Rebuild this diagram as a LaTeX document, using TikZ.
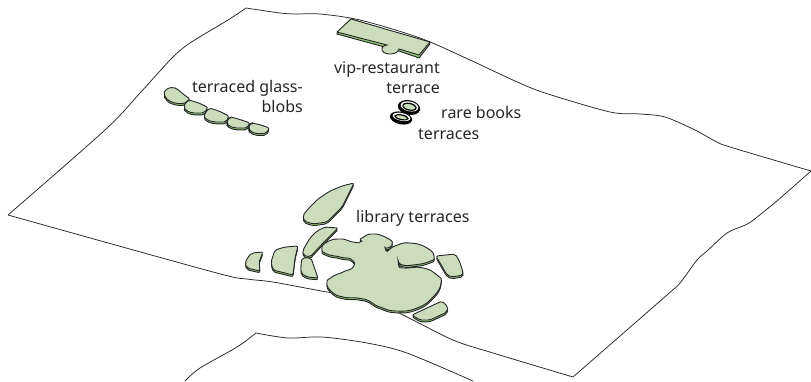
\documentclass[tikz,border=0pt]{standalone}
\usepackage{xcolor}
\usepackage{fontspec}
\setmainfont{Noto Sans}
\definecolor{terracetop}{HTML}{CCDDBE}
\definecolor{terraceside}{HTML}{8CC276}
\newcommand{\terrace}[1]{%
  \draw[side, shift={(0,1.8)}] #1;
  \draw[top] #1;}

\begin{document}
\begin{tikzpicture}[
    x=1pt, y=-1pt,
    font=\fontsize{16}{20}\selectfont,
    ground/.style={line width=.75pt, black!85},
    top/.style={draw=black!85, fill=terracetop, line width=.9pt, rounded corners=2pt},
    side/.style={draw=black!85, fill=terraceside, line width=.9pt, rounded corners=2pt},
    ringline/.style={draw=black, line width=1.2pt},
    lab/.style={inner sep=0pt, text=black!85, align=right}
  ]
    \useasboundingbox (0,0) rectangle (811,381);

    % site outline
    \draw[ground] plot[smooth, tension=.5] coordinates {(8,215) (105,130) (140,93) (172,58) (190,43) (228,20) (246,8)};
    \draw[ground] plot[smooth, tension=.5] coordinates {(246,8) (280,13) (296,14) (320,14) (360,20) (420,38) (470,60) (515,81) (545,93) (610,112) (640,114) (665,117) (695,130) (715,141) (730,147) (811,171)};
    \draw[ground] plot[smooth, tension=.5] coordinates {(811,171) (778,200) (752,221) (743,226) (727,233) (707,251) (697,260) (680,283) (667,295) (573,377)};
    \draw[ground] plot[smooth, tension=.5] coordinates {(573,377) (493,353) (453,340) (407,317) (367,298) (327,292) (273,282) (247,279) (213,272) (8,215)};
    \draw[ground] plot[smooth, tension=.5] coordinates {(185,381) (200,368) (237,347) (256,333)};
    \draw[ground] plot[smooth, tension=.5] coordinates {(256,333) (288,338) (322,337) (367,343) (407,353) (473,381)};

    % glass blobs
    \terrace{(163.5,94) -- (166,89) -- (173,87) -- (178,89.5) -- (183,94) -- (190,99) -- (185,103.5) -- (176,103.5) -- (168,100.5) -- cycle}
    \terrace{(183.5,107) -- (186,102) -- (189,100) -- (199,103) -- (208,107.5) -- (204,113) -- (192,113) -- (186,110.5) -- cycle}
    \terrace{(203.5,116) -- (206,112) -- (209,108) -- (219,111) -- (229,116) -- (226,122) -- (214,122) -- (207,120) -- cycle}
    \terrace{(226.5,123) -- (228,119) -- (231,117) -- (240,119.5) -- (250,123) -- (247,128) -- (235,128) -- (229,126) -- cycle}
    \terrace{(248.5,128) -- (250,124) -- (252,123) -- (261,125) -- (269.5,128) -- (266,133.5) -- (255,133.5) -- (250,131) -- cycle}

    % vip terrace
    \fill[terraceside, draw=black!85, line width=.9pt] (351,19) -- (430,44) -- (419,58) -- (399,51) -- (337,34) -- cycle;
    \draw[top, rounded corners=0pt] (351,19) -- (430,42) -- (419,55) -- (399,49)
      .. controls (398,55) and (384,56) .. (382,50)
      .. controls (381,47) and (385,45) .. (387,45) -- (337,32) -- cycle;

    % rare books
    \foreach \cx/\cy/\rx/\ry in {409/107.5/10.5/6.5, 401/118/10.5/5.5} {
      \fill[black, rotate around={-12:(\cx,\cy)}] (\cx,\cy) ellipse [x radius=\rx+.8, y radius=\ry+.8];
      \fill[white, rotate around={-12:(\cx,\cy)}] (\cx+.3,\cy-1.2) ellipse [x radius=\rx-1.5, y radius=\ry-1.6];
      \draw[ringline, fill=terracetop, rotate around={-12:(\cx,\cy)}] (\cx+.3,\cy-.8) ellipse [x radius=\rx-3.8, y radius=\ry-3.2];
    }

    % library
    \terrace{(354,183) -- (342,186) -- (330,191) -- (318,199) -- (309,208) -- (303,215) -- (304,221) -- (313,224) -- (327,222) -- (342,207) -- cycle}
    \terrace{(325,227) -- (338,228) -- (323,243) -- (310,257) -- (303,255) -- (303,250) -- (310,238) -- (317,231) -- cycle}
    \terrace{(302,258) -- (311,258) -- (318,278) -- (307,277) -- (301,273) -- (301,265) -- cycle}
    \terrace{(275,250) -- (285,247) -- (298,246) -- (295,258) -- (293,275) -- (273,270) -- (271,262) -- cycle}
    \terrace{(252,253) -- (263,252) -- (259,262) -- (260,271) -- (247,268) -- (245,263) -- (248,257) -- cycle}
    \terrace{plot[smooth, tension=.8] coordinates {(398,262) (403,265) (413,265) (428,262) (434,257) (427,248) (410,243) (395,246) (388,252)}
      -- plot[smooth, tension=.8] coordinates {(385,249.5) (392,244) (387,238) (373,234) (362,238) (360,242) (353,242) (340,239) (327,242) (322,249) (327,254) (340,257) (352,260) (353,267) (343,272) (332,277) (327,283) (332,292) (343,297) (357,298) (367,300) (380,307) (397,311) (417,308) (433,297) (441,283) (437,275) (423,268) (404,268) (399,267)} -- cycle}
    \terrace{(436,256) -- (455,254) -- (459,260) -- (463,272) -- (463,275) -- (452,277) -- (447,275) -- cycle}
    \terrace{(412,315) -- (442,301) -- (448,307) -- (447,312) -- (430,320) -- (420,320) -- cycle}

    \node[lab, anchor=south east] (glass) at (303,113) {terraced glass-\\blobs};
    \node[lab, anchor=south east] (vip) at (440,94) {vip-restaurant\\terrace};
    \node[lab, anchor=base west] (rare) at (441,118) {rare books};
    \node[lab, anchor=base west] (rareterr) at (418,139) {terraces};
    \node[lab, anchor=base west] (library) at (356,222) {library terraces};
  \end{tikzpicture}
\end{document}
